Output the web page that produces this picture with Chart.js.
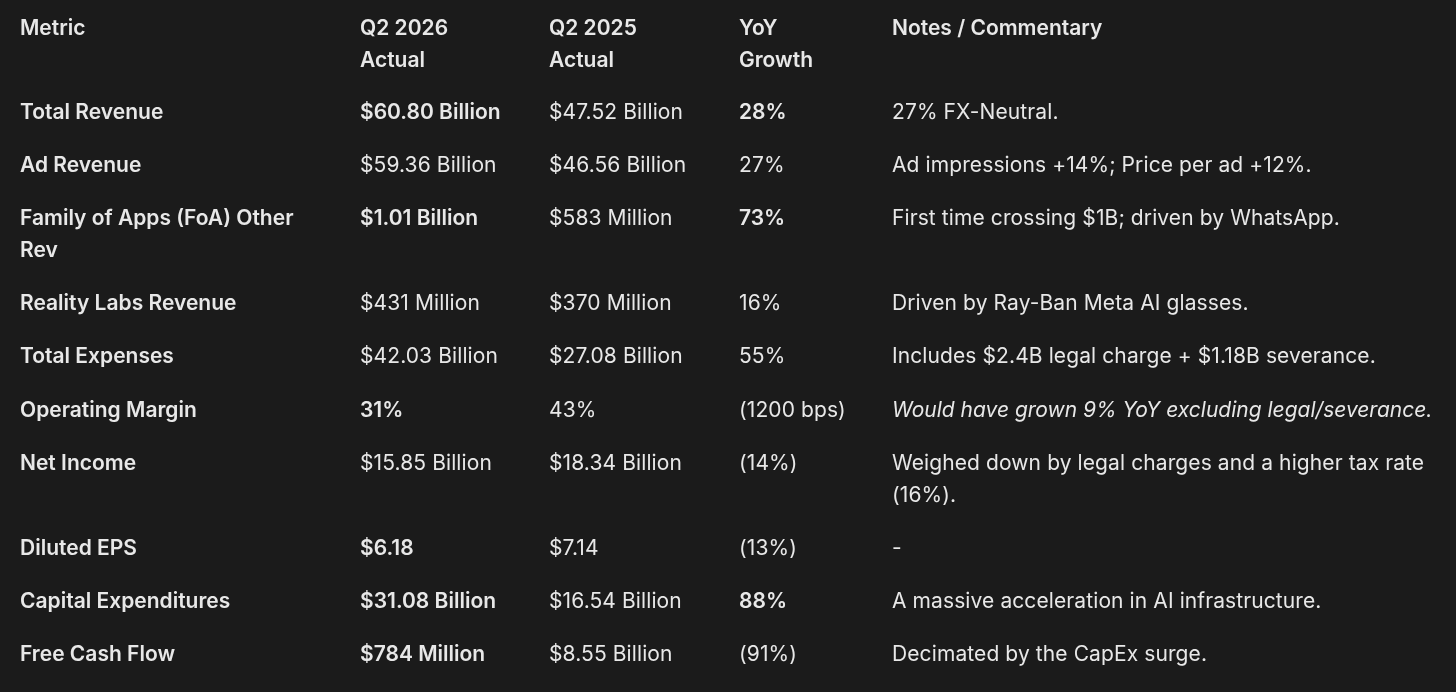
<!DOCTYPE html>
<html>
<head>
<meta charset="utf-8">
<script src="https://cdn.jsdelivr.net/npm/chart.js@4/dist/chart.umd.min.js"></script>
<style>
  html, body { margin: 0; padding: 0; background: #1b1b1b; }
  #wrap { width: 1456px; height: 692px; }
</style>
</head>
<body>
<div id="wrap"><canvas id="tableChart"></canvas></div>
<script>
// table content
const headers = ['Metric', ['Q2 2026', 'Actual'], ['Q2 2025', 'Actual'], ['YoY', 'Growth'], 'Notes / Commentary'];

const metrics = [
    'Total Revenue',
    'Ad Revenue',
    ['Family of Apps (FoA) Other', 'Rev'],
    'Reality Labs Revenue',
    'Total Expenses',
    'Operating Margin',
    'Net Income',
    'Diluted EPS',
    'Capital Expenditures',
    'Free Cash Flow'
];

const q2_2026 = ['$60.80 Billion', '$59.36 Billion', '$1.01 Billion', '$431 Million', '$42.03 Billion',
    '31%', '$15.85 Billion', '$6.18', '$31.08 Billion', '$784 Million'];

const q2_2025 = ['$47.52 Billion', '$46.56 Billion', '$583 Million', '$370 Million', '$27.08 Billion',
    '43%', '$18.34 Billion', '$7.14', '$16.54 Billion', '$8.55 Billion'];

const yoyGrowth = ['28%', '27%', '73%', '16%', '55%', '(1200 bps)', '(14%)', '(13%)', '88%', '(91%)'];

const notes = [
    '27% FX-Neutral.',
    'Ad impressions +14%; Price per ad +12%.',
    'First time crossing $1B; driven by WhatsApp.',
    'Driven by Ray-Ban Meta AI glasses.',
    'Includes $2.4B legal charge + $1.18B severance.',
    'Would have grown 9% YoY excluding legal/severance.',
    ['Weighed down by legal charges and a higher tax rate', '(16%).'],
    '-',
    'A massive acceleration in AI infrastructure.',
    'Decimated by the CapEx surge.'
];

// emphasis (row indices)
const boldQ2_2026 = [0, 2, 5, 7, 8, 9];
const boldYoy = [0, 2, 8];
const italicNotes = [5];

// layout
const W = 1456, H = 692;
const colLeft = [20, 360, 549, 739, 892];
const firstBaseline = 35;
const lineHeight = 32;
const headerGap = 52;
const rowGap = 53.1;
const fontSize = 21;
const textColor = '#e8e8e8';
const family = 'Inter, "Noto Sans", sans-serif';

const columns = [metrics, q2_2026, q2_2025, yoyGrowth, notes];
const lines = v => Array.isArray(v) ? v : [v];

// baseline of each row's first line
const rowBaselines = [];
let y = firstBaseline + (Math.max(...headers.map(h => lines(h).length)) - 1) * lineHeight + headerGap;
metrics.forEach((m, r) => {
    rowBaselines.push(y);
    const n = Math.max(...columns.map(col => lines(col[r]).length));
    y += (n - 1) * lineHeight + rowGap;
});

function styleFor(c, r) {
    if (r < 0 || c === 0) return { weight: 600, italic: false };
    if (c === 1 && boldQ2_2026.includes(r)) return { weight: 600, italic: false };
    if (c === 3 && boldYoy.includes(r)) return { weight: 600, italic: false };
    if (c === 4 && italicNotes.includes(r)) return { weight: 400, italic: true };
    return { weight: 400, italic: false };
}

// one dataset per column; each point is a cell anchor
const datasets = columns.map((col, c) => {
    const pts = [{ x: colLeft[c], y: firstBaseline, text: headers[c], row: -1 }];
    col.forEach((v, r) => pts.push({ x: colLeft[c], y: rowBaselines[r], text: v, row: r }));
    return { label: lines(headers[c]).join(' '), data: pts, pointRadius: 0, pointHoverRadius: 0, col: c };
});

const cellText = {
    id: 'cellText',
    afterDatasetsDraw(chart) {
        const ctx = chart.ctx;
        ctx.save();
        ctx.fillStyle = textColor;
        ctx.textAlign = 'left';
        ctx.textBaseline = 'alphabetic';
        chart.data.datasets.forEach((ds, di) => {
            const meta = chart.getDatasetMeta(di);
            meta.data.forEach((el, i) => {
                const cell = ds.data[i];
                const s = styleFor(ds.col, cell.row);
                ctx.font = (s.italic ? 'italic ' : '') + s.weight + ' ' + fontSize + 'px ' + family;
                ctx.letterSpacing = s.weight === 400 && !s.italic ? '0.1px' : '0px';
                lines(cell.text).forEach((t, k) => {
                    ctx.fillText(t, el.x, el.y + k * lineHeight);
                });
            });
        });
        ctx.restore();
    }
};

new Chart(document.getElementById('tableChart'), {
    type: 'scatter',
    data: { datasets: datasets },
    options: {
        responsive: true,
        maintainAspectRatio: false,
        animation: false,
        events: [],
        layout: { padding: 0 },
        plugins: { legend: { display: false }, tooltip: { enabled: false } },
        scales: {
            x: { type: 'linear', display: false, min: 0, max: W },
            y: { type: 'linear', display: false, min: 0, max: H, reverse: true }
        }
    },
    plugins: [cellText]
});
</script>
</body>
</html>
